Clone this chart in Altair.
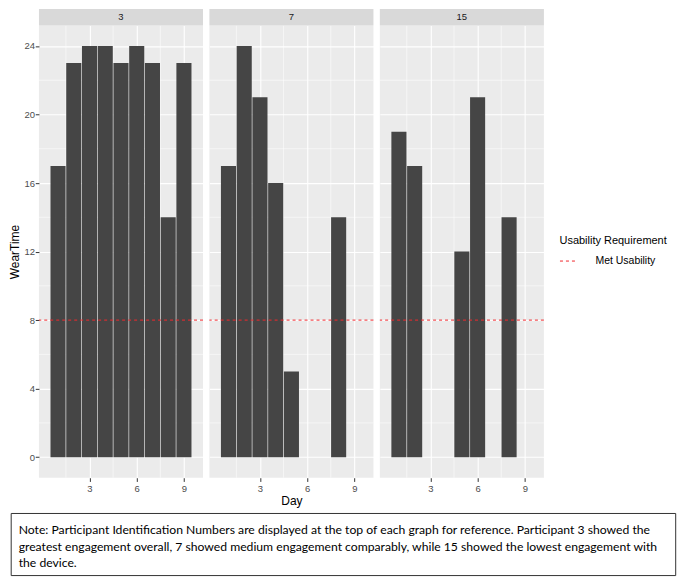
import altair as alt
import pandas as pd

# ---- data ----
participants = ["3", "7", "15"]
days_p3 = [1, 2, 3, 4, 5, 6, 7, 8, 9]
wear_p3 = [17, 23, 24, 24, 23, 24, 23, 14, 23]
days_p7 = [1, 2, 3, 4, 5, 8]
wear_p7 = [17, 24, 21, 16, 5, 14]
days_p15 = [1, 2, 5, 6, 8]
wear_p15 = [19, 17, 12, 21, 14]
usability_threshold = [8]
usability_label = ["Met Usability"]
y_major = [0, 4, 8, 12, 16, 20, 24]
y_minor = [2, 6, 10, 14, 18, 22]
x_major = [3, 6, 9]
x_minor = [1.5, 4.5, 7.5]
note_lines = [
    "Note: Participant Identification Numbers are displayed at the top of each graph for reference. Participant 3 showed the",
    "greatest engagement overall, 7 showed medium engagement comparably, while 15 showed the lowest engagement with",
    "the device.",
]

W = 164.3
H = 453
GAP = 5.7
STRIP = 16.4
X0 = 29.7            # left extent of the y axis (chart x of first panel)
P3X = X0 + 2 * (W + GAP)  # chart x of third panel
FONT = "Liberation Sans"

xscale = alt.Scale(domain=[0.105, 9.895], nice=False, zero=False)
yscale = alt.Scale(domain=[-1.2, 25.2], nice=False, zero=False)


def panel(pid, days, wear, first, middle, last):
    df = pd.DataFrame({"Day": days, "WearTime": wear})
    xaxis = alt.Axis(
        values=x_major, grid=True, gridColor="white", gridWidth=1.1,
        domain=False, ticks=True, tickColor="#333333", tickSize=3.7, tickWidth=1,
        labelColor="#4D4D4D", labelFontSize=9.5, labelFont=FONT, labelPadding=2,
        title="Day" if middle else None, titleFont=FONT, titleFontSize=12,
        titleFontWeight="normal", titleColor="black", titlePadding=2.4,
    )
    if first:
        yaxis = alt.Axis(
            values=y_major, grid=True, gridColor="white", gridWidth=1.1,
            domain=False, ticks=True, tickColor="#333333", tickSize=3.7, tickWidth=1,
            labelColor="#4D4D4D", labelFontSize=9.5, labelFont=FONT, labelPadding=0.8,
            title="WearTime", titleFont=FONT, titleFontSize=12,
            titleFontWeight="normal", titleColor="black", titlePadding=2.5,
        )
    else:
        yaxis = alt.Axis(
            values=y_major, grid=True, gridColor="white", gridWidth=1.1,
            domain=False, ticks=False, labels=False, title=None,
        )

    minor_x = alt.Chart(pd.DataFrame({"Day": x_minor})).mark_rule(
        color="white", strokeWidth=0.55
    ).encode(x=alt.X("Day:Q", scale=xscale, axis=xaxis))
    minor_y = alt.Chart(pd.DataFrame({"WearTime": y_minor})).mark_rule(
        color="white", strokeWidth=0.55
    ).encode(y=alt.Y("WearTime:Q", scale=yscale, axis=yaxis))

    bars = alt.Chart(df).mark_bar(color="#454545", width=15.1).encode(
        x=alt.X("Day:Q", scale=xscale, axis=xaxis),
        y=alt.Y("WearTime:Q", scale=yscale, axis=yaxis),
        y2=alt.datum(0),
    )

    rule = alt.Chart(pd.DataFrame({"WearTime": usability_threshold,
                                   "req": usability_label})).mark_rule(
        strokeDash=[3, 3], strokeWidth=1
    ).encode(
        y=alt.Y("WearTime:Q", scale=yscale, axis=yaxis),
        color=alt.Color(
            "req:N",
            scale=alt.Scale(range=["#F0282D"]),
            legend=alt.Legend(
                title="Usability Requirement", orient="none",
                legendX=551 - X0, legendY=210,
                titleFont=FONT, titleFontSize=11, titleFontWeight="normal",
                titleColor="black", titlePadding=6,
                labelFont=FONT, labelFontSize=10.5, labelColor="black",
                labelOffset=18, symbolType="stroke", symbolSize=289,
                symbolDash=[3, 3], symbolStrokeWidth=1,
            ),
        ),
    )

    strip_df = pd.DataFrame({"pid": [pid]})
    strip = alt.Chart(strip_df).mark_rect(color="#D9D9D9").encode(
        x=alt.value(0), x2=alt.value(W), y=alt.value(-STRIP), y2=alt.value(0)
    )
    strip_text = alt.Chart(strip_df).mark_text(
        font=FONT, fontSize=9.5, color="#1A1A1A", baseline="middle", align="center"
    ).encode(x=alt.value(W / 2), y=alt.value(-STRIP / 2), text="pid:N")

    layers = [minor_x, minor_y, bars, rule, strip, strip_text]

    if last:
        note_df = pd.DataFrame({"txt": ["\n".join(note_lines)]})
        box = alt.Chart(note_df).mark_rect(
            fill="white", stroke="#333333", strokeWidth=1
        ).encode(
            x=alt.value(-P3X + 0.5), x2=alt.value(666 - P3X),
            y=alt.value(488.8), y2=alt.value(551),
        )
        txt = alt.Chart(note_df).mark_text(
            font="Lato", fontSize=12.2, color="black", align="left",
            baseline="middle", lineBreak="\n", lineHeight=16.5,
        ).encode(x=alt.value(8 - P3X), y=alt.value(505.6), text="txt:N")
        layers += [box, txt]

    return alt.layer(*layers).properties(
        width=W, height=H,
        view=alt.ViewBackground(fill="#EBEBEB", stroke=None),
    )


p1 = panel(participants[0], days_p3, wear_p3, True, False, False)
p2 = panel(participants[1], days_p7, wear_p7, False, True, False)
p3 = panel(participants[2], days_p15, wear_p15, False, False, True)

chart = alt.hconcat(p1, p2, p3, spacing=GAP, bounds="flush").properties(
    padding={"left": 0, "top": 0, "right": 0, "bottom": 0},
    background="white",
).configure_view(stroke=None)

chart.save("out.html", embed_options={"renderer": "svg", "actions": False})
